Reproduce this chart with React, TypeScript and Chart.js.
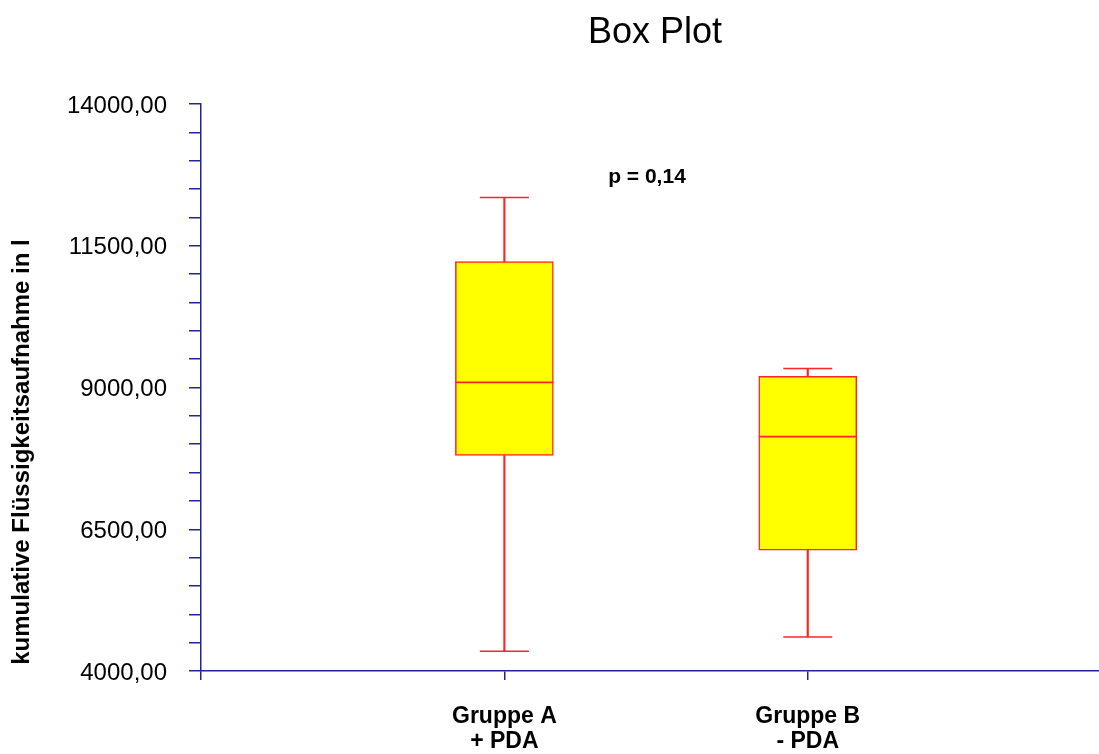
import React, { useEffect, useRef } from "react";
import { Chart, registerables } from "chart.js";

Chart.register(...registerables);

// Groups on the x axis (two-line labels) and their positions on the linear x scale
const categories: string[][] = [["Gruppe A", "+ PDA"], ["Gruppe B", "- PDA"]];
const positions = [1, 2];
const xMax = 2.96;

// Box plot statistics per group (cumulative fluid intake in l)
const whiskerMin = [4350, 4600];
const quartile1 = [7800, 6130];
const median = [9090, 8135];
const quartile3 = [11220, 9195];
const whiskerMax = [12350, 9335];

// Y axis range and labelled ticks
const yMin = 4000;
const yMax = 14000;
const yStep = 500;
const yLabelEvery = 2500;

const titleText = "Box Plot";
const yTitleText = "kumulative Flüssigkeitsaufnahme in l";
const pValueText = "p = 0,14";

const AXIS = "#23239a";
const RED = "#ff2424";
const YELLOW = "#ffff00";
const FONT = "'Liberation Sans', Arial, sans-serif";

const formatValue = (v: number) => v.toFixed(2).replace(".", ",");

export default function App() {
  const canvasRef = useRef<HTMLCanvasElement | null>(null);

  useEffect(() => {
    const canvas = canvasRef.current;
    if (!canvas) return;

    const textPlugin = {
      id: "chartTexts",
      afterDraw(chart: any) {
        const { ctx } = chart;
        ctx.save();
        ctx.fillStyle = "#000";
        ctx.textAlign = "center";
        ctx.textBaseline = "middle";

        ctx.font = `36px ${FONT}`;
        ctx.fillText(titleText, 655, 33);

        ctx.font = `bold 21px ${FONT}`;
        ctx.fillText(pValueText, 647, 177);

        ctx.translate(22, 452);
        ctx.rotate(-Math.PI / 2);
        ctx.font = `bold 24px ${FONT}`;
        ctx.fillText(yTitleText, 0, 0);
        ctx.restore();
      },
    };

    const lowerWhiskers = positions.map((x, i) => ({ x, y: [whiskerMin[i], quartile1[i]] }));
    const upperWhiskers = positions.map((x, i) => ({ x, y: [quartile3[i], whiskerMax[i]] }));
    const boxes = positions.map((x, i) => ({ x, y: [quartile1[i], quartile3[i]] }));
    const capsLow = positions.map((x, i) => ({ x, y: whiskerMin[i] }));
    const capsHigh = positions.map((x, i) => ({ x, y: whiskerMax[i] }));
    const medians = positions.map((x, i) => ({ x, y: median[i] }));

    const pointLine = (data: any[], radius: number, width: number, order: number) => ({
      type: "line" as const,
      data,
      showLine: false,
      pointStyle: "line",
      pointRadius: radius,
      pointHoverRadius: radius,
      pointBorderColor: RED,
      pointBackgroundColor: RED,
      pointBorderWidth: width,
      pointHoverBorderWidth: width,
      order,
    });

    const whiskerBar = (data: any[]) => ({
      type: "bar" as const,
      data,
      backgroundColor: RED,
      borderWidth: 0,
      barThickness: 1.5,
      grouped: false,
      order: 3,
    });

    const chart = new Chart(canvas, {
      type: "bar",
      data: {
        datasets: [
          whiskerBar(lowerWhiskers) as any,
          whiskerBar(upperWhiskers) as any,
          {
            type: "bar",
            data: boxes as any,
            backgroundColor: YELLOW,
            borderColor: RED,
            borderWidth: 1.5,
            borderSkipped: false,
            barThickness: 98,
            grouped: false,
            order: 2,
          },
          pointLine(capsLow, 24.5, 1.5, 1) as any,
          pointLine(capsHigh, 24.5, 1.5, 1) as any,
          pointLine(medians, 49, 1.8, 0) as any,
        ],
      },
      options: {
        animation: false,
        responsive: false,
        devicePixelRatio: 1,
        layout: { autoPadding: false, padding: { top: 104, left: 0, right: 0, bottom: 0 } },
        plugins: {
          legend: { display: false },
          tooltip: { enabled: false },
          title: { display: false },
        },
        scales: {
          x: {
            type: "linear",
            min: 0,
            max: xMax,
            offset: false,
            afterBuildTicks: (scale: any) => {
              // unlabelled end ticks keep the axis running edge to edge
              scale.ticks = [0, ...positions, xMax].map((v) => ({ value: v }));
            },
            afterFit: (scale: any) => {
              scale.height = 83;
              scale.paddingLeft = 0;
              scale.paddingRight = 0;
            },
            grid: {
              offset: false,
              drawOnChartArea: false,
              drawTicks: true,
              tickLength: 9,
              color: AXIS,
              tickColor: (ctx: any) => (ctx.tick && ctx.tick.value === xMax ? "rgba(0,0,0,0)" : AXIS),
              lineWidth: 1.5,
            },
            border: { color: AXIS, width: 1.5 },
            ticks: {
              autoSkip: false,
              maxRotation: 0,
              padding: 24,
              color: "#000",
              font: { family: FONT, size: 23, weight: "bold", lineHeight: "25px" } as any,
              callback: (value: any) => {
                const idx = positions.indexOf(Number(value));
                return idx >= 0 ? categories[idx] : "";
              },
            },
          },
          y: {
            type: "linear",
            min: yMin,
            max: yMax,
            afterFit: (scale: any) => {
              scale.width = 201;
            },
            grid: {
              drawOnChartArea: false,
              drawTicks: true,
              tickLength: 12,
              color: AXIS,
              lineWidth: 1.5,
            },
            border: { color: AXIS, width: 1.5 },
            ticks: {
              stepSize: yStep,
              autoSkip: false,
              padding: 22,
              labelOffset: 2,
              color: "#000",
              font: { family: FONT, size: 24 },
              callback: (value: any) => {
                const v = Number(value);
                return (v - yMin) % yLabelEvery === 0 ? formatValue(v) : "";
              },
            },
          },
        },
      },
      plugins: [textPlugin],
    });

    return () => chart.destroy();
  }, []);

  return (
    <div style={{ position: "fixed", left: 0, top: 0, width: 1099, height: 754, background: "#fff" }}>
      <canvas ref={canvasRef} width={1099} height={754} />
    </div>
  );
}
